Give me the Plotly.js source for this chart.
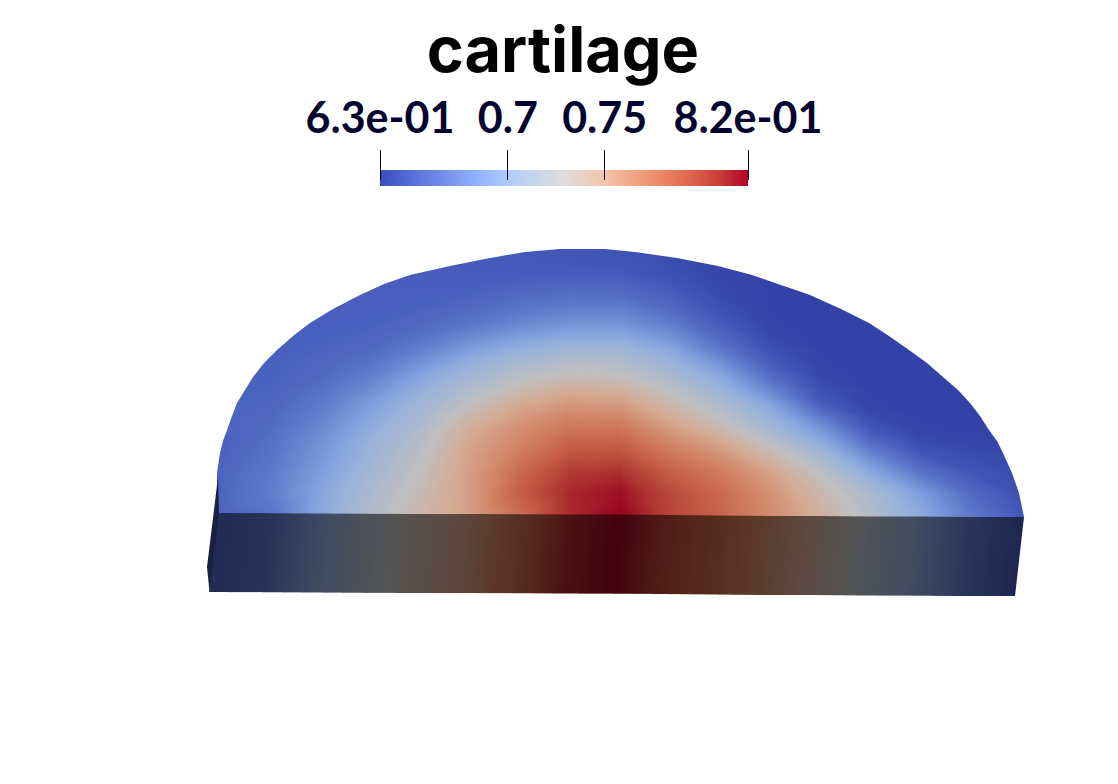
<!DOCTYPE html>
<html><head><meta charset="utf-8">
<script src="https://cdn.plot.ly/plotly-3.0.1.min.js"></script>
<style>html,body{margin:0;padding:0;background:#fff}#c{width:1118px;height:784px}</style>
</head><body><div id="c"></div>
<script>
const W=1118,H=784;
const titleText='cartilage';
const tickVals=[0.634,0.7,0.75,0.824];
const tickLabels=['6.3e-01','0.7','0.75','8.2e-01'];
const barValues=[0.634,0.642,0.65,0.66,0.67,0.68,0.687,0.70,0.71,0.72,0.728,0.74,0.75,0.76,0.772,0.782,0.792,0.80,0.809,0.817,0.824];
const stopValues=[0.634,0.65,0.687,0.70,0.728,0.75,0.772,0.792,0.809,0.824];
const stopColors=[[59,76,192],[85,110,218],[150,185,255],[175,205,252],[221,221,221],[245,195,170],[240,150,115],[225,105,80],[200,60,55],[176,4,38]];
const colX=[217,270,320,370,420,470,520,570,620,670,720,770,820,870,920,970,1025];
const rowY=[249,252,258,266,275,284,295,309,323,336,350,363,377,390,403,416,430,441,453,473,493];
const rowLeft=[560,525,490,450,410,384,360,333,310,293,277,264,253,245,237,232,227,223,220,217,217,219];
const rowRight=[605,635,677,718,752,778,810,841,869,889,909,927,943,958,970,980,989,997,1003,1012,1019,1024];
const edgeY=[513,513.2,513.5,513.8,514,514,514.2,514.5,514.5,515,515.5,516,516,516.5,516.5,517,517];
const v249=[.646,.646,.646,.646,.646,.646,.646,.645,.644,.642,.64,.64,.64,.64,.64,.64,.64];
const v252=[.646,.646,.646,.646,.646,.646,.646,.645,.644,.641,.64,.64,.64,.64,.64,.64,.64];
const v258=[.647,.647,.647,.647,.647,.647,.646,.645,.644,.64,.638,.638,.638,.638,.638,.638,.638];
const v266=[.647,.647,.647,.647,.647,.647,.647,.646,.645,.641,.637,.637,.637,.637,.637,.637,.637];
const v275=[.648,.648,.648,.648,.648,.648,.648,.648,.647,.642,.637,.636,.636,.636,.636,.636,.636];
const v284=[.649,.649,.649,.649,.649,.649,.651,.653,.652,.645,.638,.635,.635,.635,.635,.635,.635];
const v295=[.649,.649,.649,.649,.649,.651,.655,.658,.657,.649,.639,.635,.634,.634,.634,.634,.634];
const v309=[.649,.649,.649,.649,.651,.655,.662,.667,.667,.656,.642,.635,.634,.634,.634,.634,.634];
const v323=[.649,.649,.649,.65,.654,.661,.671,.678,.678,.665,.647,.636,.634,.634,.634,.634,.634];
const v336=[.65,.65,.65,.652,.659,.672,.685,.692,.692,.678,.654,.638,.634,.634,.634,.634,.634];
const v350=[.65,.65,.651,.655,.667,.686,.699,.706,.706,.692,.663,.642,.635,.634,.634,.634,.634];
const v363=[.65,.65,.653,.66,.678,.698,.712,.72,.718,.703,.678,.648,.636,.634,.634,.634,.634];
const v377=[.65,.65,.655,.667,.69,.708,.723,.733,.73,.714,.693,.658,.638,.634,.634,.634,.634];
const v390=[.651,.651,.659,.675,.698,.717,.736,.748,.745,.725,.704,.671,.642,.635,.634,.634,.634];
const v403=[.652,.652,.663,.684,.705,.727,.749,.76,.758,.736,.714,.689,.648,.636,.634,.634,.634];
const v416=[.652,.654,.668,.69,.71,.738,.758,.77,.769,.748,.725,.70,.664,.639,.635,.634,.634];
const v430=[.652,.656,.673,.696,.716,.748,.766,.779,.78,.76,.738,.71,.682,.646,.636,.635,.635];
const v441=[.65,.658,.677,.70,.72,.752,.77,.787,.788,.768,.752,.722,.694,.656,.639,.636,.636];
const v453=[.65,.66,.68,.703,.724,.755,.775,.794,.796,.777,.762,.737,.708,.67,.645,.639,.638];
const v473=[.652,.663,.685,.708,.729,.757,.785,.806,.811,.79,.776,.755,.726,.694,.662,.645,.64];
const v493=[.652,.665,.69,.713,.734,.757,.79,.813,.82,.80,.785,.764,.738,.712,.685,.656,.642];
const v515=[.652,.66,.692,.717,.738,.757,.783,.812,.824,.802,.787,.767,.745,.72,.695,.665,.645];
const valueRows=[v249,v252,v258,v266,v275,v284,v295,v309,v323,v336,v350,v363,v377,v390,v403,v416,v430,v441,v453,v473,v493,v515];
const sideBottomX=[209,262,312,362,412,462,512,562,612,662,712,762,812,862,912,962,1015];
const sideBottomY=[592,592.2,592.5,592.8,593,593,593.2,593.5,593.7,594,594.5,595,595,595.5,595.7,596,596];
const cutX=[218,219,209.5,207];
const cutY=[477,513,592,567];

const cmin=tickVals[0],cmax=tickVals[3];
function scale(f){return stopValues.map((v,i)=>[(v-cmin)/(cmax-cmin),
  'rgb('+stopColors[i].map(c=>Math.round(c*f)).join(',')+')']);}
const sy=y=>H-y;
let tx=[],ty=[],tz=[],tv=[],ti=[],tj=[],tk=[];
const nc=colX.length,nr=valueRows.length;
valueRows.forEach((vals,r)=>{
  colX.forEach((cx,c)=>{
    tx.push(Math.min(rowRight[r],Math.max(rowLeft[r],cx)));
    ty.push(sy(r<rowY.length?rowY[r]:edgeY[c]));
    tz.push(0);tv.push(vals[c]);
  });
});
for(let r=0;r<nr-1;r++)for(let c=0;c<nc-1;c++){
  const a=r*nc+c,b=a+1,d=a+nc,e=d+1;
  if(c<8){ti.push(a,b);tj.push(b,e);tk.push(d,d);}
  else{ti.push(a,a);tj.push(b,e);tk.push(e,d);}
}
let sx=[],syy=[],sz=[],sv=[],si=[],sj=[],sk=[];
colX.forEach((cx,c)=>{sx.push(c===0?219:(c===nc-1?1024:cx));syy.push(sy(edgeY[c]));sz.push(0);sv.push(v515[c]);});
colX.forEach((cx,c)=>{sx.push(sideBottomX[c]);syy.push(sy(sideBottomY[c]));sz.push(0);sv.push(v515[c]);});
for(let c=0;c<nc-1;c++){si.push(c,c+1);sj.push(c+1,c+1+nc);sk.push(c+nc,c+nc);}
const flat={ambient:1,diffuse:0,specular:0,roughness:1,fresnel:0};
const traces=[
 {type:'mesh3d',x:tx,y:ty,z:tz,i:ti,j:tj,k:tk,intensity:tv,intensitymode:'vertex',cmin,cmax,colorscale:scale(0.87),showscale:false,lighting:flat,hoverinfo:'skip',scene:'scene'},
 {type:'mesh3d',x:sx,y:syy,z:sz,i:si,j:sj,k:sk,intensity:sv,intensitymode:'vertex',cmin,cmax,colorscale:scale(0.38),showscale:false,lighting:flat,hoverinfo:'skip',scene:'scene'},
 {type:'mesh3d',x:cutX,y:cutY.map(sy),z:[0,0,0,0],i:[0,0],j:[1,2],k:[2,3],color:'rgb(25,33,65)',lighting:flat,hoverinfo:'skip',scene:'scene'},
 {type:'heatmap',x:barValues,y:[0,1],z:[barValues,barValues],zmin:cmin,zmax:cmax,colorscale:scale(1),showscale:false,zsmooth:'best',hoverinfo:'skip',xaxis:'x',yaxis:'y'}
];
const axis3d={visible:false,showspikes:false};
const layout={
 width:W,height:H,margin:{l:0,r:0,t:0,b:0},paper_bgcolor:'#fff',plot_bgcolor:'rgba(0,0,0,0)',showlegend:false,hovermode:false,
 title:{text:titleText,x:563/W,xanchor:'center',y:1-50/H,yanchor:'middle',font:{family:'Inter',size:63,color:'#000',weight:700}},
 scene:{domain:{x:[0,1],y:[0,1]},bgcolor:'rgba(0,0,0,0)',
  xaxis:{...axis3d,range:[0,W]},yaxis:{...axis3d,range:[0,H]},zaxis:{...axis3d,range:[-1,1]},
  aspectmode:'manual',aspectratio:{x:2*W/H,y:2,z:0.2},
  camera:{eye:{x:0,y:0,z:2},center:{x:0,y:0,z:0},up:{x:0,y:1,z:0},projection:{type:'orthographic'}}},
 xaxis:{domain:[380/W,748/W],range:[cmin,cmax],side:'top',anchor:'free',position:1-180/H,showgrid:false,zeroline:false,showline:false,
   tickmode:'array',tickvals:tickVals,ticktext:tickLabels,ticks:'outside',ticklen:30,tickwidth:1,tickcolor:'#03032e',
   tickfont:{family:'Lato',size:43,color:'#03032e',weight:700},tickangle:0,fixedrange:true},
 yaxis:{domain:[1-186/H,1-170/H],range:[0,1],visible:false,fixedrange:true}
};
Plotly.newPlot('c',traces,layout,{displayModeBar:false});
</script></body></html>
